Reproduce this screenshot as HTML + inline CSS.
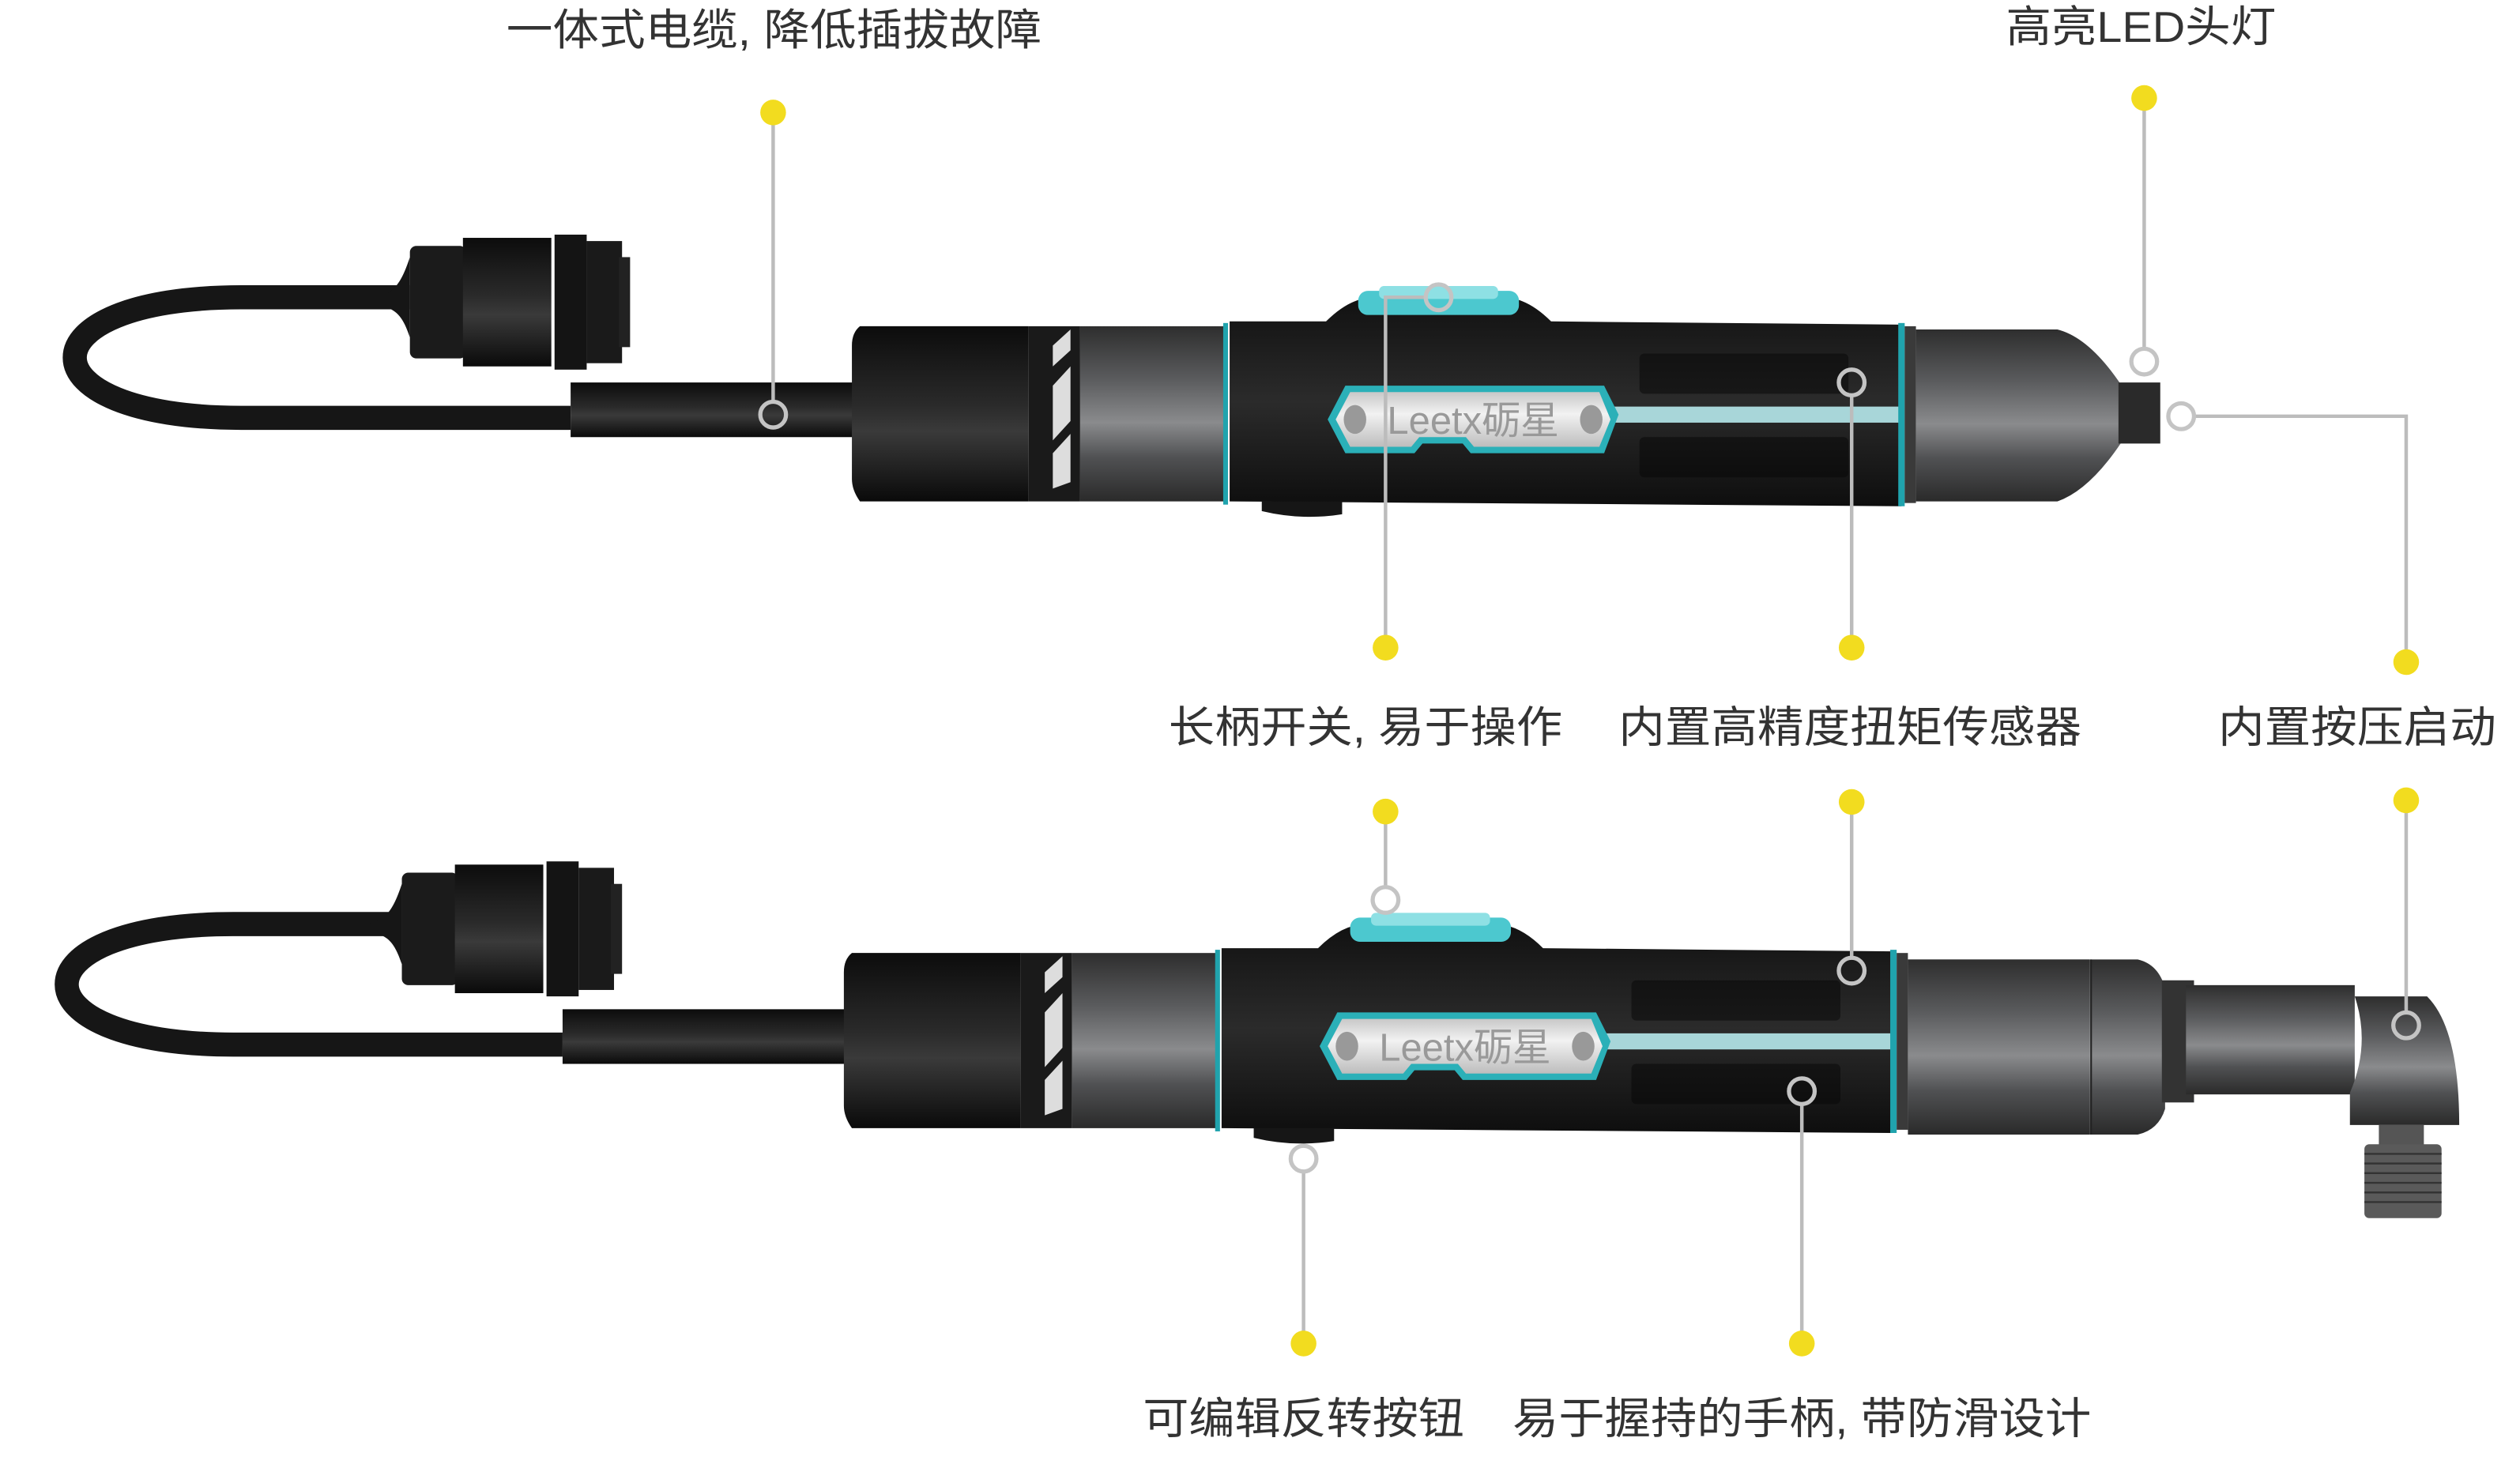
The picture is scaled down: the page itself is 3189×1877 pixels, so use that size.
<!DOCTYPE html>
<html><head><meta charset="utf-8">
<style>
html,body{margin:0;padding:0;background:#fff;}
svg{display:block;}
text{font-family:"Liberation Sans","Noto Sans CJK SC",sans-serif;fill:#333;font-size:27px;}
</style></head>
<body>
<svg width="3189" height="1877" viewBox="0 0 1567.8 922.8" xmlns="http://www.w3.org/2000/svg">
<defs>
<linearGradient id="blk" x1="0" y1="0" x2="0" y2="1">
<stop offset="0" stop-color="#0c0c0c"/><stop offset="0.45" stop-color="#2a2a2a"/><stop offset="0.6" stop-color="#3a3a3a"/><stop offset="1" stop-color="#0a0a0a"/>
</linearGradient>
<linearGradient id="gry" x1="0" y1="0" x2="0" y2="1">
<stop offset="0" stop-color="#2e2e2e"/><stop offset="0.3" stop-color="#5a5b5d"/><stop offset="0.55" stop-color="#8a8b8d"/><stop offset="0.75" stop-color="#505153"/><stop offset="1" stop-color="#2a2a2a"/>
</linearGradient>
<linearGradient id="hnd" x1="0" y1="0" x2="0" y2="1">
<stop offset="0" stop-color="#111"/><stop offset="0.5" stop-color="#2b2b2b"/><stop offset="1" stop-color="#0e0e0e"/>
</linearGradient>
<linearGradient id="plate" x1="0" y1="0" x2="0" y2="1">
<stop offset="0" stop-color="#c8c8c8"/><stop offset="0.4" stop-color="#f2f2f2"/><stop offset="1" stop-color="#bdbdbd"/>
</linearGradient>
<g id="tool">
  <!-- cable -->
  <path d="M355 260 L150 260 C12 260 12 185 150 185 L255 185" fill="none" stroke="#161616" stroke-width="15"/>
  <path d="M230 185 C245 185 250 175 255 160 L255 210 C250 195 245 190 230 190Z" fill="#161616"/>
  <rect x="255" y="153" width="35" height="70" rx="4" fill="#1b1b1b"/>
  <rect x="288" y="148" width="55" height="80" fill="url(#blk)"/>
  <rect x="345" y="146" width="20" height="84" fill="#141414"/>
  <rect x="365" y="150" width="22" height="76" fill="#1a1a1a"/>
  <rect x="385" y="160" width="7" height="56" fill="#222"/>
  <rect x="355" y="238" width="178" height="34" fill="url(#blk)"/>
  <!-- rear cap -->
  <path d="M535 203 L640 203 L640 312 L535 312 Q530 305 530 298 L530 215 Q530 207 535 203Z" fill="url(#blk)"/>
  <rect x="640" y="203" width="32" height="109" fill="#1a1a1a"/>
  <path d="M655 215 L666 205 L666 218 L655 228Z M655 240 L666 228 L666 262 L655 274Z M655 282 L666 270 L666 300 L655 304Z" fill="#ddd"/>
  <rect x="672" y="203" width="90" height="109" fill="url(#gry)"/>
  <rect x="761" y="201" width="3" height="113" fill="#20a3ad"/>
  <!-- handle -->
  <path d="M765 200 L825 200 Q840 185 855 185 L935 185 Q950 185 965 200 L1183 202 L1183 315 L765 312Z" fill="url(#hnd)"/>
  <path d="M785 312 L835 312 L835 320 Q810 324 785 318Z" fill="#161616"/>
  <rect x="845" y="181" width="100" height="15" rx="6" fill="#4cc8cf"/>
  <rect x="858" y="178" width="74" height="8" rx="3" fill="#8ee0e4"/>
  <g fill="#060606">
    <rect x="1020" y="220" width="130" height="25" rx="3" opacity="0.5"/>
    <rect x="1020" y="272" width="130" height="25" rx="3" opacity="0.5"/>
  </g>
  <rect x="995" y="253" width="188" height="10" fill="#a8d6d9"/>
  <path d="M837 240 L998 240 L1007 258 L998 282 L915 282 L910 276 L885 276 L880 282 L837 282 L826 261Z" fill="#2bb0b8"/>
  <path d="M840 244 L995 244 L1002 261 L995 278 L917 278 L912 272 L883 272 L878 278 L840 278 L831 261Z" fill="url(#plate)"/>
  <ellipse cx="843" cy="261" rx="7" ry="9" fill="#999"/>
  <ellipse cx="990" cy="261" rx="7" ry="9" fill="#999"/>
  <text x="863" y="270" style="font-size:24px;fill:#999" textLength="107" lengthAdjust="spacingAndGlyphs">Leetx砺星</text>
  <rect x="1181" y="201" width="4" height="114" fill="#20a3ad"/>
  <rect x="1185" y="203" width="7" height="110" fill="#3a3a3a"/>
</g>
</defs>

<use href="#tool"/>
<path d="M1192 205 L1280 205 Q1300 210 1320 240 L1320 275 Q1300 305 1280 312 L1192 312Z" fill="url(#gry)"/>
<rect x="1318" y="238" width="26" height="38" fill="#2a2a2a"/>

<use href="#tool" transform="translate(-5,390)"/>
<rect x="1187" y="597" width="113" height="109" fill="url(#gry)"/>
<path d="M1300 597 L1330 597 Q1343 600 1347 615 L1347 690 Q1343 703 1330 706 L1300 706Z" fill="url(#gry)"/>
<line x1="1301" y1="597" x2="1301" y2="706" stroke="#222" stroke-width="1"/>
<rect x="1345" y="610" width="20" height="76" fill="#333"/>
<rect x="1360" y="613" width="105" height="68" fill="url(#gry)"/>
<path d="M1465 620 L1510 620 Q1530 640 1530 700 L1462 700 L1462 680 Q1475 650 1465 620Z" fill="url(#gry)"/>
<rect x="1480" y="700" width="28" height="15" fill="#555"/>
<rect x="1471" y="712" width="48" height="46" rx="3" fill="#5a5a5a"/>
<g stroke="#333" stroke-width="1.2">
<line x1="1471" y1="718" x2="1519" y2="718"/><line x1="1471" y1="724" x2="1519" y2="724"/><line x1="1471" y1="730" x2="1519" y2="730"/><line x1="1471" y1="736" x2="1519" y2="736"/><line x1="1471" y1="742" x2="1519" y2="742"/><line x1="1471" y1="748" x2="1519" y2="748"/>
</g>

<g fill="none" stroke="#bcbcbc" stroke-width="2.2">
<line x1="481" y1="70" x2="481" y2="250"/>
<line x1="1334" y1="61" x2="1334" y2="217"/>
<polyline points="862,403 862,185 887,185"/>
<line x1="1152" y1="246" x2="1152" y2="403"/>
<polyline points="1365,259 1497,259 1497,412"/>
<line x1="862" y1="505" x2="862" y2="552"/>
<line x1="1152" y1="499" x2="1152" y2="596"/>
<line x1="1497" y1="498" x2="1497" y2="630"/>
<line x1="811" y1="729" x2="811" y2="836"/>
<line x1="1121" y1="687" x2="1121" y2="836"/>
</g>
<g fill="none" stroke="#c4c4c4" stroke-width="2.6">
<circle cx="481" cy="258" r="8"/>
<circle cx="1334" cy="225" r="8"/>
<circle cx="895" cy="185" r="8"/>
<circle cx="1152" cy="238" r="8"/>
<circle cx="1357" cy="259" r="8"/>
<circle cx="862" cy="560" r="8"/>
<circle cx="1152" cy="604" r="8"/>
<circle cx="1497" cy="638" r="8"/>
<circle cx="811" cy="721" r="8"/>
<circle cx="1121" cy="679" r="8"/>
</g>
<g fill="#f2dc1f">
<circle cx="481" cy="70" r="8"/>
<circle cx="1334" cy="61" r="8"/>
<circle cx="862" cy="403" r="8"/>
<circle cx="1152" cy="403" r="8"/>
<circle cx="1497" cy="412" r="8"/>
<circle cx="862" cy="505" r="8"/>
<circle cx="1152" cy="499" r="8"/>
<circle cx="1497" cy="498" r="8"/>
<circle cx="811" cy="836" r="8"/>
<circle cx="1121" cy="836" r="8"/>
</g>

<text x="315" y="28" textLength="333" lengthAdjust="spacingAndGlyphs">一体式电缆, 降低插拔故障</text>
<text x="1248" y="26" textLength="168" lengthAdjust="spacingAndGlyphs">高亮LED头灯</text>
<text x="727" y="462" textLength="245" lengthAdjust="spacingAndGlyphs">长柄开关, 易于操作</text>
<text x="1007" y="462" textLength="288" lengthAdjust="spacingAndGlyphs">内置高精度扭矩传感器</text>
<text x="1380" y="462" textLength="173" lengthAdjust="spacingAndGlyphs">内置按压启动</text>
<text x="711" y="892" textLength="200" lengthAdjust="spacingAndGlyphs">可编辑反转按钮</text>
<text x="941" y="892" textLength="360" lengthAdjust="spacingAndGlyphs">易于握持的手柄, 带防滑设计</text>
</svg>
</body></html>
